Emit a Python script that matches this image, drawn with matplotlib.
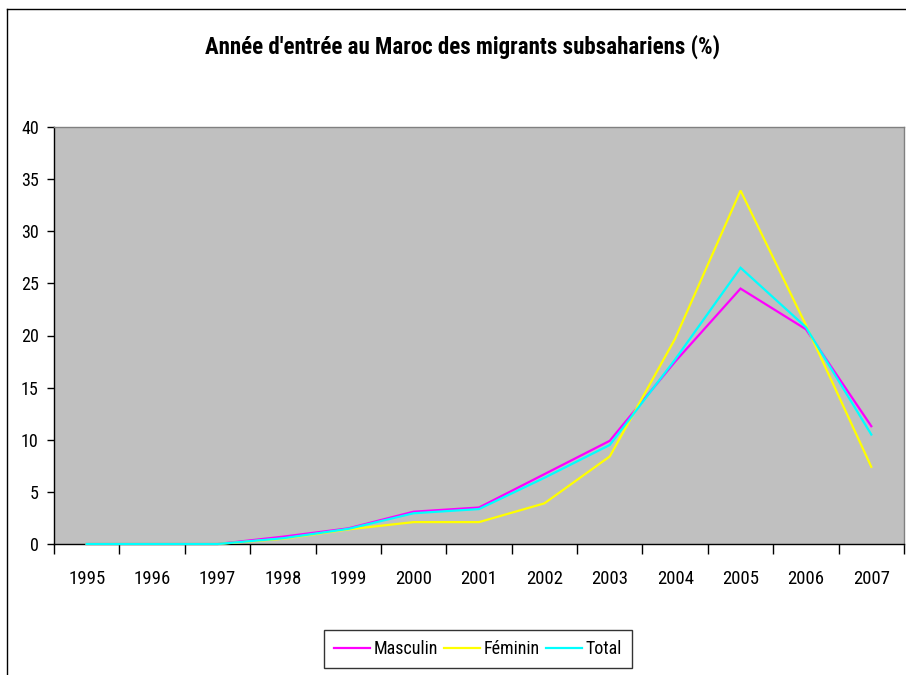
import matplotlib
matplotlib.use("Agg")
import matplotlib.pyplot as plt
from matplotlib.lines import Line2D
from matplotlib import font_manager
import numpy as np

years = ["1995", "1996", "1997", "1998", "1999", "2000", "2001",
         "2002", "2003", "2004", "2005", "2006", "2007"]
masculin = [0, 0, 0, 0.7, 1.5, 3.1, 3.5, 6.7, 9.9, 17.5, 24.5, 20.6, 11.3]
feminin = [0, 0, 0, 0.5, 1.4, 2.1, 2.1, 3.9, 8.4, 19.7, 33.9, 21.0, 7.4]
total = [0, 0, 0, 0.55, 1.45, 2.95, 3.35, 6.35, 9.5, 17.7, 26.5, 20.8, 10.5]
series_names = ["Masculin", "Féminin", "Total"]
colors = ["#FF00FF", "#FFFF00", "#00FFFF"]
yticks = [0, 5, 10, 15, 20, 25, 30, 35, 40]
title = "Année d'entrée au Maroc des migrants subsahariens (%)"

names = {f.name for f in font_manager.fontManager.ttflist}
fam = ["Roboto Condensed", "Liberation Sans", "DejaVu Sans"]
fam = [f for f in fam if f in names]
plt.rcParams['font.family'] = fam

W, H = 906, 675
fig = plt.figure(figsize=(W / 100, H / 100), dpi=100)
fig.patch.set_facecolor("white")

# outer chart border (left and top visible)
fig.add_artist(Line2D([7 / W, 7 / W], [0, 1 - 9 / H], color="black", lw=1.0))
fig.add_artist(Line2D([7 / W, 1], [1 - 9 / H, 1 - 9 / H], color="black", lw=1.0))

ax = fig.add_axes([54 / W, 131 / H, 850 / W, 417 / H])
ax.set_facecolor("#C0C0C0")
x = np.arange(len(years))
for vals, name, c in zip([masculin, feminin, total], series_names, colors):
    ax.plot(x, vals, color=c, lw=1.6, label=name, solid_joinstyle="miter",
            clip_on=False, zorder=3)

ax.set_xlim(-0.5, len(years) - 0.5)
ax.set_ylim(0, 40)
ax.set_yticks(yticks)
ax.set_yticklabels([str(v) for v in yticks], fontsize=13)
ax.set_xticks(x)
ax.set_xticklabels(years, fontsize=13.5)
ax.set_xticks(np.arange(-0.5, len(years)), minor=True)
ax.tick_params(axis="x", which="major", length=0, pad=19)
ax.tick_params(axis="x", which="minor", length=7, width=1, color="black", direction="out")
ax.tick_params(axis="y", length=5, width=1, color="black", direction="out", pad=6)
for s in ["top", "right"]:
    ax.spines[s].set_color("#808080")
    ax.spines[s].set_linewidth(1.0)
for s in ["left", "bottom"]:
    ax.spines[s].set_color("black")
    ax.spines[s].set_linewidth(1.0)

fig.text(463 / W, 1 - 47 / H, title, ha="center", va="center",
         fontsize=16.5, fontweight="bold")

leg = fig.legend(loc="center", bbox_to_anchor=(478 / W, 1 - 649 / H),
                 ncol=3, frameon=True, fancybox=False, fontsize=13,
                 handlelength=2.0, handletextpad=0.2, columnspacing=0.35,
                 borderpad=0.55, borderaxespad=0, edgecolor="black")
leg.get_frame().set_linewidth(1.0)
for l in leg.get_lines():
    l.set_linewidth(1.6)

fig.savefig("out.png", dpi=100, facecolor="white")
